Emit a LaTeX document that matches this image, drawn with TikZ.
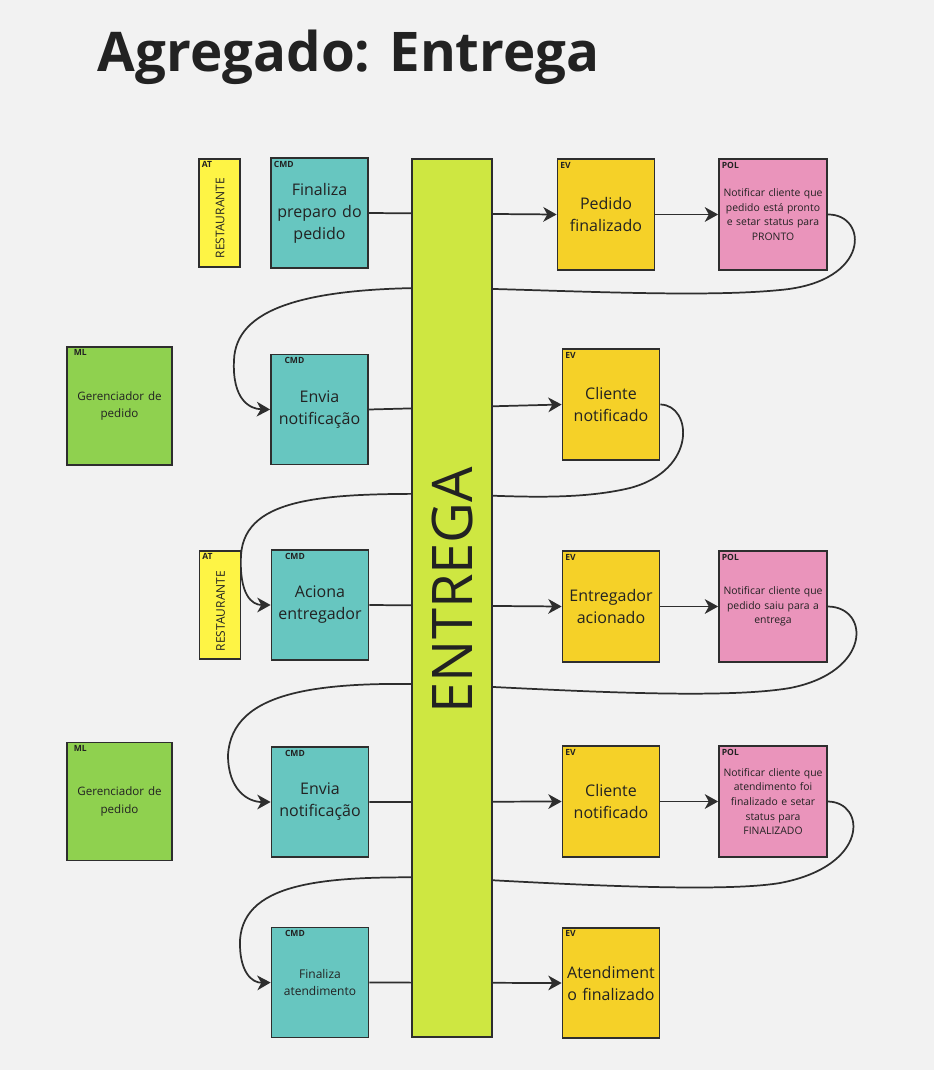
\documentclass[tikz,border=0pt]{standalone}
\usepackage{fontspec}
\setmainfont{Open Sans}
\usetikzlibrary{arrows.meta,backgrounds}
\definecolor{bgcol}{HTML}{F2F2F2}
\definecolor{edge}{HTML}{2E2E2E}
\definecolor{ink}{HTML}{222222}
\definecolor{cmdcol}{HTML}{67C6C0}
\definecolor{evcol}{HTML}{F5D128}
\definecolor{polcol}{HTML}{EA94BB}
\definecolor{atcol}{HTML}{FEF445}
\definecolor{mlcol}{HTML}{8FD14F}
\definecolor{barcol}{HTML}{CEE741}
\begin{document}
\begin{tikzpicture}[x=0.75pt, y=-0.75pt,
  every node/.style={align=center, text=ink, inner sep=2pt},
  sticky/.style={draw=edge, line width=1.3pt, minimum width=72.75pt, minimum height=82.5pt, text width=68pt, font=\fontsize{12}{16.5}\selectfont},
  cmd/.style={sticky, fill=cmdcol},
  ev/.style={sticky, fill=evcol, minimum height=83pt},
  pol/.style={sticky, fill=polcol, minimum width=81pt, minimum height=83pt, text width=76pt, font=\fontsize{7.8}{11}\selectfont},
  actor/.style={draw=edge, line width=1.3pt, fill=atcol, minimum width=30.75pt, minimum height=81pt},
  model/.style={sticky, fill=mlcol, minimum width=78.75pt, minimum height=88.5pt, text width=72pt, font=\fontsize{8.7}{13}\selectfont},
  tag/.style={font=\fontsize{6.4}{7}\selectfont\bfseries, inner sep=2.6pt, anchor=north west},
  flow/.style={draw=edge, line width=1.3pt, -{Stealth[length=10pt, width=11pt, inset=3pt]}}
]
  % Page
  \useasboundingbox (0,0) rectangle (934,1070);
  \node[anchor=base west, font=\fontsize{41}{48}\selectfont\bfseries, text=ink] (title) at (95,72) {Agregado: Entrega};

  % Row 1
  \node[actor, label={[tag]north west:AT}] (at1) at (219.5,213) {};
  \node[rotate=90, font=\fontsize{9}{10}\selectfont] (at1txt) at (220,218) {RESTAURANTE};
  \node[cmd, label={[tag]north west:CMD}] (cmd1) at (319.5,213) {Finaliza\\preparo do\\pedido};
  \node[ev, label={[tag]north west:EV}] (ev1) at (606,214.5) {Pedido\\finalizado};
  \node[pol, label={[tag]north west:POL}] (pol1) at (773,214.5) {Notificar cliente que\\pedido está pronto\\e setar status para\\PRONTO};

  % Row 2
  \node[model, label={[tag, xshift=3pt]north west:ML}] (ml1) at (119.5,406) {Gerenciador de\\pedido};
  \node[cmd, label={[tag, xshift=8pt]north west:CMD}] (cmd2) at (319.5,409.5) {Envia\\notificação};
  \node[ev, label={[tag]north west:EV}] (ev2) at (611,404.5) {Cliente\\notificado};

  % Row 3
  \node[actor, label={[tag]north west:AT}] (at2) at (220,605) {};
  \node[rotate=90, font=\fontsize{9}{10}\selectfont] (at2txt) at (220.5,611) {RESTAURANTE};
  \node[cmd, label={[tag, xshift=8pt]north west:CMD}] (cmd3) at (320,605) {Aciona\\entregador};
  \node[ev, label={[tag]north west:EV}] (ev3) at (611,606.5) {Entregador\\acionado};
  \node[pol, label={[tag]north west:POL}] (pol3) at (773,606.5) {Notificar cliente que\\pedido saiu para a\\entrega};

  % Row 4
  \node[model, label={[tag, xshift=3pt]north west:ML}] (ml2) at (119.5,801.5) {Gerenciador de\\pedido};
  \node[cmd, label={[tag, xshift=8pt]north west:CMD}] (cmd4) at (320,802) {Envia\\notificação};
  \node[ev, label={[tag]north west:EV}] (ev4) at (611,801.5) {Cliente\\notificado};
  \node[pol, label={[tag]north west:POL}] (pol4) at (773,801.5) {Notificar cliente que\\atendimento foi\\finalizado e setar\\status para\\FINALIZADO};

  % Row 5
  \node[cmd, font=\fontsize{9}{13}\selectfont, label={[tag, xshift=8pt]north west:CMD}] (cmd5) at (320,982.5) {Finaliza\\atendimento};
  \node[ev, label={[tag]north west:EV}] (ev5) at (611,983) {Atendiment\\o finalizado};

  % Aggregate bar (drawn over the connectors)
  \node[draw=edge, line width=1.3pt, fill=barcol, minimum width=60pt, minimum height=658.5pt] (bar) at (452,598) {};
  \node[rotate=90, font=\fontsize{42}{42}\selectfont] (bartxt) at (452,590) {ENTREGA};

  \begin{scope}[on background layer]
    \fill[bgcol] (0,0) rectangle (934,1070);
    % Straight flows
    \draw[flow] (cmd1.east) -- (ev1.west);
    \draw[flow] (ev1.east) -- (pol1.west);
    \draw[flow] (cmd2.east) -- (ev2.west);
    \draw[flow] (cmd3.east) -- (ev3.west);
    \draw[flow] (ev3.east) -- (pol3.west);
    \draw[flow] (cmd4.east) -- (ev4.west);
    \draw[flow] (ev4.east) -- (pol4.west);
    \draw[flow] (cmd5.east) -- (ev5.west);
    % Loops back to the next command
    \draw[flow] (pol1.east) .. controls (868,214) and (872,282) .. (780,290) .. controls (700,298) and (560,290) .. (452,288) .. controls (300,286) and (236,310) .. (234,360) .. controls (232,400) and (250,409) .. (cmd2.west);
    \draw[flow] (ev2.east) .. controls (692,405) and (698,470) .. (630,488) .. controls (580,500) and (520,497) .. (452,494) .. controls (330,493) and (245,495) .. (241,555) .. controls (239,595) and (252,605) .. (cmd3.west);
    \draw[flow] (pol3.east) .. controls (870,607) and (872,672) .. (790,688) .. controls (720,700) and (560,690) .. (452,685) .. controls (320,680) and (232,690) .. (228,755) .. controls (228,790) and (248,802) .. (cmd4.west);
    \draw[flow] (pol4.east) .. controls (866,802) and (870,866) .. (780,883) .. controls (720,893) and (560,884) .. (452,878) .. controls (330,875) and (244,880) .. (240,940) .. controls (239,972) and (252,983) .. (cmd5.west);
  \end{scope}
\end{tikzpicture}
\end{document}
